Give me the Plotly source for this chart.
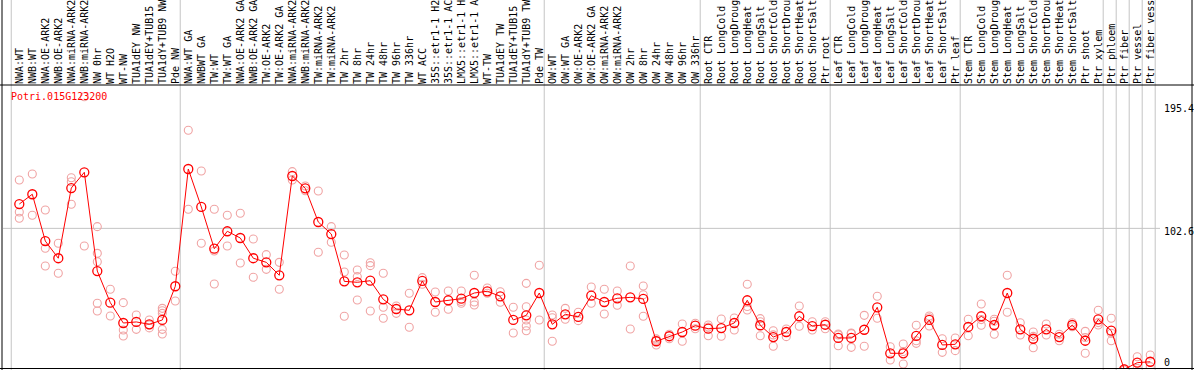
import plotly.graph_objects as go

title_text = "Potri.015G123200"

categories = [
    "NWA:WT", "NWB:WT", "NWA:OE-ARK2", "NWB:OE-ARK2", "NWA:miRNA-ARK2", "NWB:miRNA-ARK2",
    "NW 0hr", "WT H2O", "WT-NW", "TUA1dEY NW", "TUA1dEY+TUB15 NW", "TUA1dY+TUB9 NW", "Pde NW",
    "NWA:WT GA", "NWBWT GA", "TW:WT", "TW:WT GA", "NWA:OE-ARK2 GA", "NWB:OE-ARK2 GA",
    "TW:OE-ARK2", "TW:OE-ARK2 GA", "NWA:miRNA-ARK2", "NWB:miRNA-ARK2", "TW:miRNA-ARK2",
    "TW:miRNA-ARK2", "TW 2hr", "TW 8hr", "TW 24hr", "TW 48hr", "TW 96hr", "TW 336hr",
    "WT ACC", "35S::etr1-1 H2O", "35S::etr1-1 ACC", "LMX5::etr1-1 H2O", "LMX5::etr1-1 ACC",
    "WT-TW", "TUA1dEY TW", "TUA1dEY+TUB15 TW", "TUA1dY+TUB9 TW", "Pde TW",
    "OW:WT", "OW:WT GA", "OW:OE-ARK2", "OW:OE-ARK2 GA", "OW:miRNA-ARK2", "OW:miRNA-ARK2",
    "OW 2hr", "OW 8hr", "OW 24hr", "OW 48hr", "OW 96hr", "OW 336hr",
    "Root CTR", "Root LongCold", "Root LongDrought", "Root LongHeat", "Root LongSalt",
    "Root ShortCold", "Root ShortDrought", "Root ShortHeat", "Root ShortSalt", "Ptr root",
    "Leaf CTR", "Leaf LongCold", "Leaf LongDrought", "Leaf LongHeat", "Leaf LongSalt",
    "Leaf ShortCold", "Leaf ShortDrought", "Leaf ShortHeat", "Leaf ShortSalt", "Ptr leaf",
    "Stem CTR", "Stem LongCold", "Stem LongDrought", "Stem LongHeat", "Stem LongSalt",
    "Stem ShortCold", "Stem ShortDrought", "Stem ShortHeat", "Stem ShortSalt", "Ptr shoot",
    "Ptr xylem", "Ptr phloem", "Ptr fiber", "Ptr vessel", "Ptr fiber vessel",
]

mean_values = [
    121.0, 128.4, 93.0, 80.0, 133.1, 145.0, 70.3, 46.4, 31.0, 31.8, 30.0, 33.3, 58.8,
    147.5, 118.8, 87.2, 100.4, 95.3, 80.0, 76.9, 67.1, 142.2, 132.9, 107.4, 98.3,
    62.5, 61.8, 63.0, 48.9, 41.6, 40.6, 62.8, 46.9, 48.2, 49.4, 53.7, 55.0, 51.2,
    33.3, 36.8, 53.7,
    30.0, 37.6, 35.6, 51.7, 46.9, 49.7, 50.4, 49.2, 17.2, 21.0, 24.2, 29.0,
    26.7, 27.2, 31.0, 48.2, 29.3, 20.4, 24.2, 36.1, 28.7, 29.7,
    19.7, 19.7, 25.9, 42.9, 8.1, 8.1, 21.2, 33.3, 14.4, 14.9,
    28.0, 36.1, 29.5, 53.7, 26.2, 19.1, 26.2, 20.4, 29.5, 17.6,
    33.8, 25.2, -4.0, 1.0, 1.7,
]

replicate_values = [
    [139.2, 115.0, 110.2], [143.7, 112.5], [116.5, 87.5, 74.1], [91.3, 68.6],
    [140.9, 137.9, 120.8], [202.2, 89.3], [103.9, 83.7, 77.4, 45.9, 40.1], [56.5, 36.3],
    [46.4, 25.7, 21.2], [37.1, 26.2], [33.3, 29.5, 27.3], [42.1, 40.3, 38.3, 26.2, 22.7],
    [70.1, 47.7],
    [176.8, 117.0], [146.0, 91.3], [117.0, 85.5, 60.5], [112.5, 89.3], [114.0, 76.4],
    [94.6, 65.6], [82.7, 71.6], [76.9, 56.5], [145.5, 139.2], [134.6, 131.1],
    [130.9, 84.5], [103.9, 92.1], [82.5, 69.6, 36.1], [71.1, 66.1, 48.4],
    [76.6, 74.4, 40.1], [68.6, 42.9, 34.6], [43.9, 38.3], [53.5, 27.8], [65.3, 60.3],
    [54.5, 39.1], [55.2, 41.4], [55.2, 47.3, 45.9], [67.1, 46.9, 44.6], [57.5, 53.5],
    [54.7, 46.7], [42.9, 23.4], [61.0, 43.3, 33.3, 28.7, 25.2], [74.7, 33.3],
    [37.1, 35.0, 17.2], [42.1, 33.8], [39.1, 32.8], [58.2, 45.9], [56.5, 37.8],
    [55.2, 44.4], [74.1, 26.5], [59.0, 52.4, 36.1], [19.0, 18.0, 14.4], [22.5, 19.1],
    [30.3, 17.2], [30.8, 26.7],
    [29.5, 28.0, 21.4], [34.0, 21.0], [34.8, 25.7], [60.3, 43.5, 40.8], [34.3, 32.0, 21.4],
    [25.2, 22.0, 13.4], [26.5, 20.7], [43.9, 28.5], [32.0, 25.7], [32.0, 26.7],
    [22.7, 22.0, 13.8], [23.4, 23.0, 12.6], [36.8, 13.4], [51.2, 34.6], [13.1, 3.0],
    [15.1, 9.5, 0.0], [29.3, 17.6, 15.6], [36.3, 35.0, 28.7], [19.1, 8.8], [19.7, 10.1],
    [33.8, 21.4], [45.4, 33.6, 29.3], [33.8, 32.3, 22.5], [67.1, 39.1], [31.2, 21.9],
    [24.2, 20.9, 12.3], [30.3, 21.9], [22.5, 17.6], [31.2, 28.2], [24.7, 20.0, 8.1],
    [40.6, 31.3, 29.5], [34.6, 23.2, 17.6], [-3.5, -4.5], [5.5, -3.3], [6.8, -2.0],
]

# group separators sit just after the last member of each group
separator_after = [-1, 12, 40, 52, 62, 72, 83, 84, 85, 86, 87]

y_tick_labels = ["195.4", "102.6", "0"]
y_tick_label_pos = [192.9, 100.1, 1.5]
grid_value = 102.6

FONT = "DejaVu Sans Mono"
W, H = 1194, 370
L, R, T, B = 3, 34, 85, 2
plot_w = W - L - R
plot_h = H - T - B


def px_x(px):
    return (px - L) / plot_w


def px_y(py):
    return (H - B - py) / plot_h


idx = list(range(len(categories)))
rep_x, rep_y = [], []
for i, reps in zip(idx, replicate_values):
    for v in reps:
        rep_x.append(i)
        rep_y.append(v)

fig = go.Figure()
fig.add_trace(go.Scatter(
    x=rep_x, y=rep_y, mode="markers",
    marker=dict(symbol="circle-open", size=8, color="#f0a4a4", line=dict(width=1.1)),
    hoverinfo="skip",
))
fig.add_trace(go.Scatter(
    x=idx, y=mean_values, mode="lines+markers",
    line=dict(color="#ff0000", width=1),
    marker=dict(symbol="circle-open", size=9, color="#ff0000", line=dict(width=1.3)),
))

shapes = []
shapes.append(dict(type="line", xref="paper", yref="y", x0=0, x1=1, y0=grid_value, y1=grid_value,
                   line=dict(color="#c4c4c4", width=1), layer="below"))
for s in separator_after:
    xv = s + 0.38
    shapes.append(dict(type="line", xref="x", yref="paper", x0=xv, x1=xv,
                       y0=px_y(371), y1=px_y(-1), line=dict(color="#c4c4c4", width=1), layer="below"))
# black frame lines
shapes.append(dict(type="line", xref="paper", yref="paper", x0=px_x(2), x1=px_x(2),
                   y0=px_y(371), y1=px_y(-1), line=dict(color="black", width=1)))
shapes.append(dict(type="line", xref="paper", yref="paper", x0=px_x(1192), x1=px_x(1192),
                   y0=px_y(371), y1=px_y(-1), line=dict(color="black", width=1)))
shapes.append(dict(type="line", xref="paper", yref="paper", x0=px_x(0), x1=px_x(1194),
                   y0=px_y(85), y1=px_y(85), line=dict(color="black", width=1)))
shapes.append(dict(type="line", xref="paper", yref="paper", x0=px_x(0), x1=px_x(1194),
                   y0=px_y(368.5), y1=px_y(368.5), line=dict(color="black", width=1)))

annotations = [dict(text=title_text, xref="paper", yref="paper", x=px_x(9), y=px_y(97),
                    xanchor="left", yanchor="middle", showarrow=False,
                    font=dict(family=FONT, size=10, color="#ff0000"))]
for t, v in zip(y_tick_labels, y_tick_label_pos):
    annotations.append(dict(text=t, xref="paper", yref="y", x=px_x(1162), y=v,
                            xanchor="left", yanchor="middle", showarrow=False,
                            font=dict(family=FONT, size=10, color="black")))

fig.update_layout(
    width=W, height=H, margin=dict(l=L, r=R, t=T, b=B),
    paper_bgcolor="white", plot_bgcolor="white", showlegend=False,
    shapes=shapes, annotations=annotations,
    xaxis=dict(range=[-1.254, 87.75], tickmode="array", tickvals=idx, ticktext=categories,
               side="top", tickangle=-90, ticks="", showgrid=False, zeroline=False,
               showline=False, automargin=False,
               tickfont=dict(family=FONT, size=10, color="black")),
    yaxis=dict(range=[-3.03, 211.04], showticklabels=False, showgrid=False, zeroline=False,
               showline=False, automargin=False),
)

fig.write_html(
    "out.html",
    config={"displayModeBar": False},
    post_script="document.body.style.margin='0';document.body.style.padding='0';"
                "document.body.style.overflow='hidden';",
)
